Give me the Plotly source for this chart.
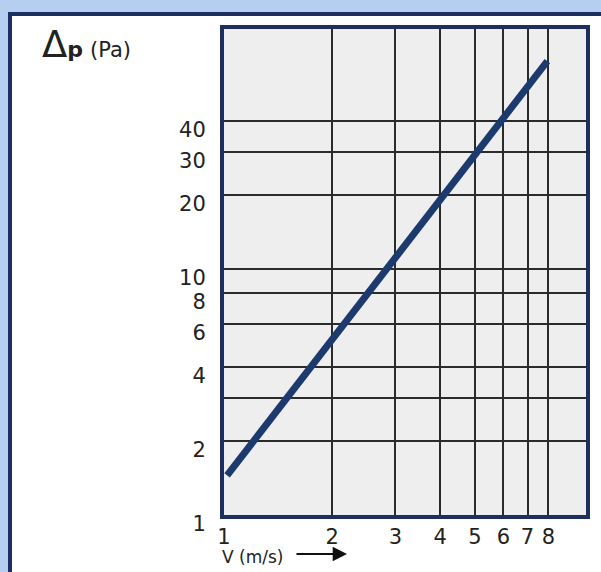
import plotly.graph_objects as go

# ---- data ----
v_values = [1.02, 2, 3, 4, 5, 6, 7, 7.95]                      # V (m/s)
dp_values = [1.45, 5.2, 11.0, 19.3, 29.3, 41.2, 54.5, 70.0]    # Δp (Pa)

x_tickvals = [1, 2, 3, 4, 5, 6, 7, 8]
x_ticktext = ["1", "2", "3", "4", "5", "6", "7", "8"]
y_tickvals = [1, 2, 3, 4, 6, 8, 10, 20, 30, 40]
y_ticktext = ["1", "2", "", "4", "6", "8", "10", "20", "30", "40"]

W, H = 601, 572
L, R, T, B = 224, 15, 29, 57
PW, PH = W - L - R, H - T - B

def px(xp):
    return (xp - L) / PW

def py(yp):
    return (H - B - yp) / PH

NAVY = "#1c2f5e"
LINE = "#1d3a6e"
LIGHTBLUE = "#b6cff1"
TXT = "#222222"
FONT = "DejaVu Sans"

fig = go.Figure()
fig.add_trace(go.Scatter(
    x=v_values, y=dp_values, mode="lines",
    line=dict(color=LINE, width=7), showlegend=False, hoverinfo="skip"))

axis_common = dict(
    type="log", showgrid=True, gridcolor="#2b2b2b", gridwidth=1.5,
    showline=True, linecolor=NAVY, linewidth=4, mirror=True,
    ticks="", zeroline=False,
    tickfont=dict(family=FONT, size=21, color=TXT),
)

fig.update_xaxes(range=[0, 1.008], tickmode="array", tickvals=x_tickvals,
                 ticktext=x_ticktext, ticklabelstandoff=0, **axis_common)
fig.update_yaxes(range=[0, 1.976], tickmode="array", tickvals=y_tickvals,
                 ticktext=y_ticktext, ticklabelshift=9, ticklabelstandoff=10,
                 **axis_common)

shapes = [
    # light blue outer strips
    dict(type="rect", xref="paper", yref="paper", x0=px(0), x1=px(W), y0=py(0), y1=py(12),
         fillcolor=LIGHTBLUE, line=dict(width=0)),
    dict(type="rect", xref="paper", yref="paper", x0=px(0), x1=px(8), y0=py(0), y1=py(H),
         fillcolor=LIGHTBLUE, line=dict(width=0)),
    # navy frame lines
    dict(type="rect", xref="paper", yref="paper", x0=px(8), x1=px(W), y0=py(12), y1=py(16),
         fillcolor=NAVY, line=dict(width=0)),
    dict(type="rect", xref="paper", yref="paper", x0=px(8), x1=px(12), y0=py(12), y1=py(H),
         fillcolor=NAVY, line=dict(width=0)),
]

annotations = [
    dict(xref="paper", yref="paper", x=px(40), y=py(45), xanchor="left", yanchor="middle",
         showarrow=False,
         text="<span style='font-size:37px'>Δ</span><b>p</b> <span style='font-size:21px'>(Pa)</span>",
         font=dict(family=FONT, size=22, color=TXT)),
    dict(xref="paper", yref="paper", x=px(220), y=py(557), xanchor="left", yanchor="middle",
         showarrow=False, text="V (m/s)",
         font=dict(family=FONT, size=17, color=TXT)),
    dict(xref="paper", yref="paper", x=px(347), y=py(554), ax=-52, ay=0,
         text="", showarrow=True, arrowhead=2, arrowsize=1.3, arrowwidth=2.2,
         arrowcolor="#111111"),
]

fig.update_layout(
    width=W, height=H,
    margin=dict(l=L, r=R, t=T, b=B),
    paper_bgcolor="white", plot_bgcolor="#eeeeee",
    shapes=shapes, annotations=annotations, showlegend=False,
)

fig.write_html("out.html", config={"displayModeBar": False},
               post_script="document.body.style.margin='0px';")
